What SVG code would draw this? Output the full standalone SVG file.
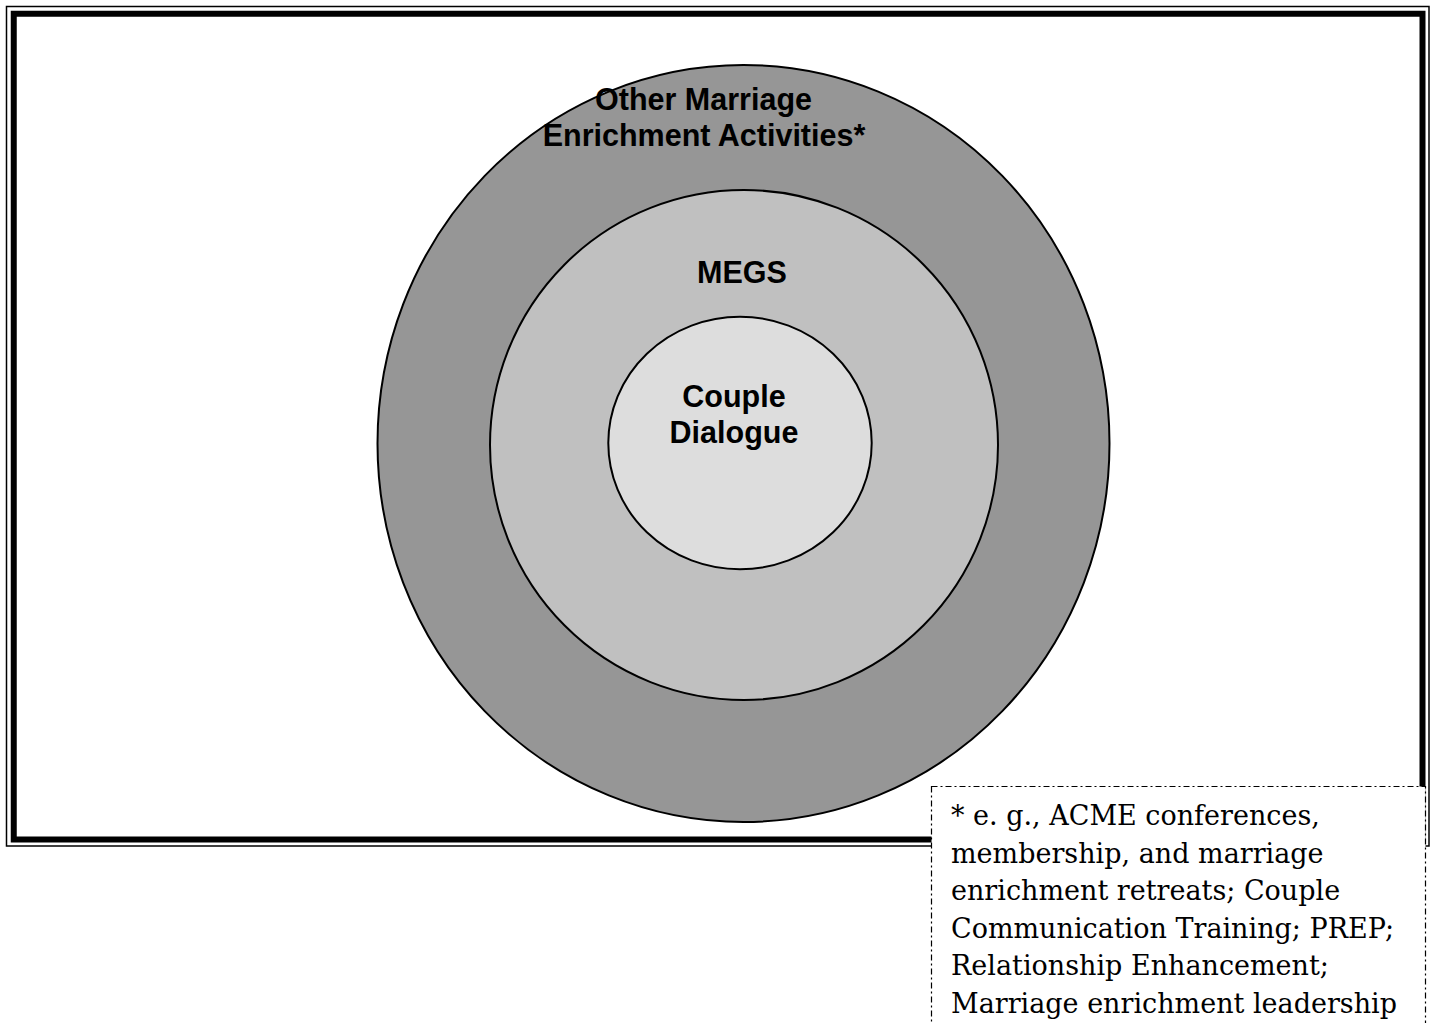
<svg xmlns="http://www.w3.org/2000/svg" width="1434" height="1023" viewBox="0 0 1434 1023">
  <style>
    .ring { stroke: #000; stroke-width: 2; }
    .lbl { font-family: "Liberation Sans", Arial, sans-serif; font-weight: bold; font-size: 30.5px; fill: #000; text-anchor: middle; }
    .note { font-family: "DejaVu Serif", "Liberation Serif", serif; font-size: 27px; fill: #000; }
  </style>
  <rect width="1434" height="1023" fill="#fff"/>
  <g id="frame" fill="none" stroke="#000">
    <rect x="6.5" y="6.5" width="1422.5" height="839.5" stroke-width="1.5"/>
    <rect x="13.75" y="13.75" width="1408.75" height="825.75" stroke-width="6"/>
  </g>
  <g id="outer">
    <ellipse class="ring" cx="743.5" cy="443.5" rx="366" ry="378.5" fill="#969696"/>
    <text class="lbl" x="703.5" y="110">Other Marriage</text>
    <text class="lbl" x="704" y="146">Enrichment Activities*</text>
  </g>
  <g id="megs">
    <ellipse class="ring" cx="744" cy="445" rx="254" ry="255" fill="#c0c0c0"/>
    <text class="lbl" x="742" y="283">MEGS</text>
  </g>
  <g id="couple">
    <ellipse class="ring" cx="740" cy="443" rx="131.7" ry="126.3" fill="#dddddd"/>
    <text class="lbl" x="734" y="407">Couple</text>
    <text class="lbl" x="734" y="443">Dialogue</text>
  </g>
  <g id="connectors"></g>
  <g id="note">
    <rect x="931.5" y="786.5" width="494" height="300" fill="#fff" stroke="#000" stroke-width="1.2" stroke-dasharray="6 3 2 3"/>
    <text class="note" x="951" y="825">* e. g., ACME conferences,</text>
    <text class="note" x="951" y="862.5">membership, and marriage</text>
    <text class="note" x="951" y="900">enrichment retreats; Couple</text>
    <text class="note" x="951" y="937.5">Communication Training; PREP;</text>
    <text class="note" x="951" y="975">Relationship Enhancement;</text>
    <text class="note" x="951" y="1012.5">Marriage enrichment leadership</text>
  </g>
</svg>
